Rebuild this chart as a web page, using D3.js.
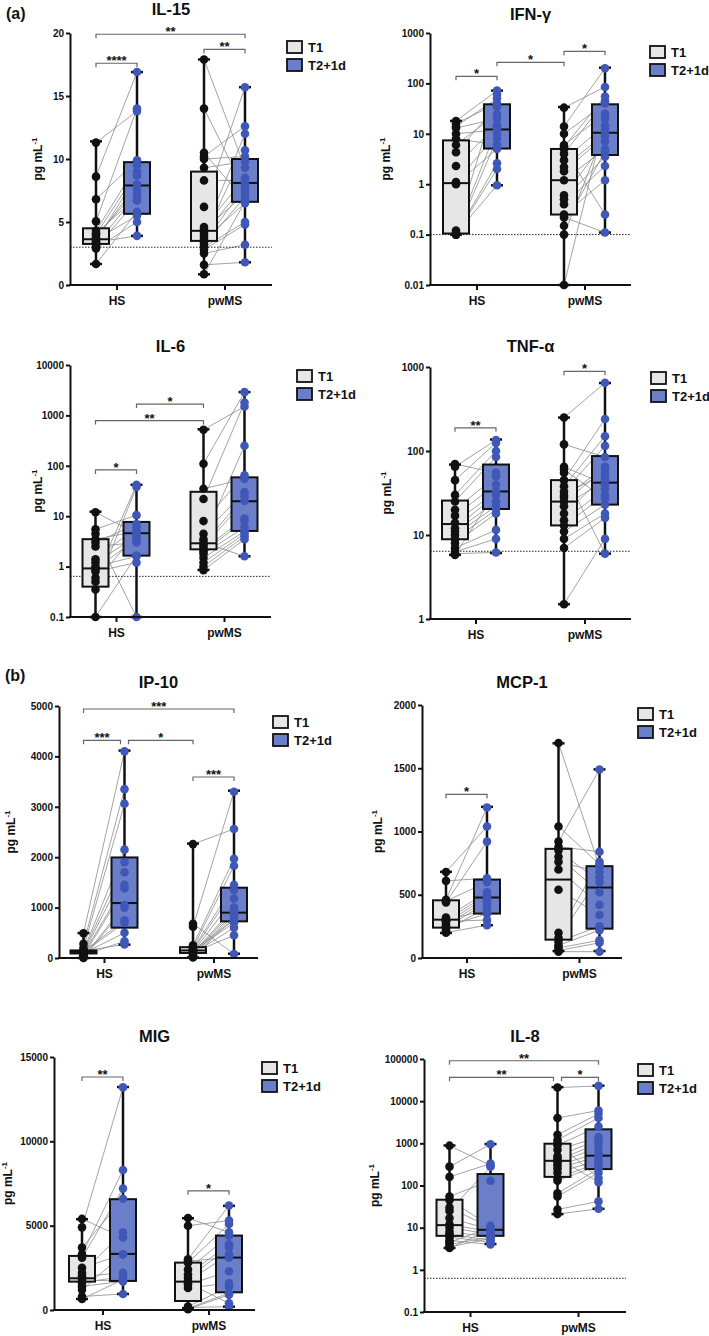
<!DOCTYPE html>
<html>
<head>
<meta charset="utf-8">
<script src="https://cdn.jsdelivr.net/npm/d3@7"></script>
<style>
body { margin: 0; background: #fff; }
text { font-family: "Liberation Sans", Arial, sans-serif; font-weight: bold; fill: #111; }
</style>
</head>
<body>
<script>
var groups = ['HS', 'pwMS'];
var series = ['T1', 'T2+1d'];

// box stats are [min, q1, median, q3, max] for HS T1, HS T2, pwMS T1, pwMS T2
// sig brackets are [from, to, y value, label], index 0..3 in the same order

// IL-15
var il15HsT1 = [11.3, 8.6, 6.8, 5.05, 4.3, 4.0, 3.8, 3.6, 3.5, 3.4, 3.2, 3.0, 2.9, 1.67, 3.7, 4.1];
var il15HsT2 = [13.8, 16.9, 9.9, 14.0, 9.5, 9.0, 7.6, 5.5, 8.7, 3.9, 7.2, 6.7, 5.0, 5.8, 8.0, 7.0];
var il15MsT1 = [17.9, 14.0, 10.5, 10.2, 10.0, 9.3, 8.3, 6.2, 4.6, 4.4, 4.2, 4.0, 3.8, 3.6, 3.4, 3.2, 3.0, 2.8, 2.5, 1.6, 0.85];
var il15MsT2 = [9.3, 7.5, 6.7, 12.6, 10.2, 9.8, 8.3, 15.7, 8.5, 7.2, 12.0, 8.0, 10.7, 6.5, 7.8, 7.0, 5.0, 4.8, 3.2, 1.8, 6.6];
var il15Box = [[1.67, 3.26, 3.63, 4.5, 11.4], [3.9, 5.65, 7.9, 9.75, 16.9], [0.85, 3.5, 4.3, 9.0, 17.9], [1.8, 6.6, 8.1, 10.0, 15.7]];
var il15Sig = [[0, 1, 17.6, '****'], [2, 3, 18.7, '**'], [0, 3, 19.9, '**']];
var il15Ticks = [0, 5, 10, 15, 20];
var il15Lod = 3.0;

// IFN-gamma
var ifnHsT1 = [18, 16, 13, 10, 8, 4.3, 2.3, 1.1, 1.0, 0.12, 0.11, 0.1, 0.1, 0.1, 14, 6, 0.105];
var ifnHsT2 = [72, 40, 20, 12, 6, 35, 15, 10, 5, 60, 13, 2.6, 8, 2.0, 50, 25, 0.95];
var ifnMsT1 = [33, 14, 10, 6, 5, 4, 3, 2.2, 1.8, 1.2, 0.6, 0.5, 0.4, 0.25, 0.22, 0.15, 0.1, 0.01, 5.5];
var ifnMsT2 = [85, 200, 40, 25, 0.25, 45, 15, 10, 9, 5, 7, 3.5, 2.3, 1.2, 0.11, 4.5, 12, 20, 55];
var ifnBox = [[0.1, 0.105, 1.05, 7.4, 18], [0.95, 5.1, 12.2, 38.5, 72], [0.01, 0.25, 1.2, 5, 34], [0.11, 3.8, 10.5, 38.5, 205]];
var ifnSig = [[0, 1, 138, '*'], [1, 2, 262, '*'], [2, 3, 432, '*']];
var ifnTicks = [0.01, 0.1, 1, 10, 100, 1000];
var ifnLod = 0.1;

// IL-6
var il6HsT1 = [12, 5.5, 4.5, 3.5, 3.0, 2.5, 1.4, 1.2, 1.0, 0.9, 0.8, 0.6, 0.5, 0.35, 0.1];
var il6HsT2 = [4.5, 10.5, 0.1, 5, 7, 3, 6, 4, 1.6, 3.5, 1.2, 42, 4.6, 38, 1.65];
var il6MsT1 = [520, 110, 35, 22, 8, 4.5, 3.5, 2.8, 2.5, 2.2, 2.0, 1.8, 1.5, 1.2, 1.0, 0.85, 3.0];
var il6MsT2 = [1500, 2900, 55, 1800, 65, 30, 250, 25, 20, 9, 8, 6, 5, 4.5, 4, 3.5, 1.6];
var il6Box = [[0.1, 0.4, 0.92, 3.5, 12.3], [0.1, 1.65, 4.6, 7.7, 42], [0.86, 2.2, 2.9, 30.5, 530], [1.6, 5.1, 19.8, 59, 2900]];
var il6Sig = [[0, 1, 83, '*'], [0, 2, 790, '**'], [1, 2, 1680, '*']];
var il6Ticks = [0.1, 1, 10, 100, 1000, 10000];
var il6Lod = 0.64;

// TNF-alpha
var tnfHsT1 = [70, 65, 45, 30, 25, 20, 17, 14, 12, 11, 10, 9, 8, 7, 6.3, 6, 5.8];
var tnfHsT2 = [55, 135, 125, 100, 85, 50, 40, 33, 30, 25, 22, 20, 18, 11.5, 9, 6.2, 33];
var tnfMsT1 = [250, 120, 65, 55, 45, 38, 33, 28, 25, 22, 18, 15, 13, 11, 9, 7, 1.5, 60, 30];
var tnfMsT2 = [650, 85, 40, 6, 240, 150, 115, 65, 60, 45, 50, 35, 30, 23, 18, 16, 9, 27, 55];
var tnfBox = [[5.8, 8.9, 13.5, 25.7, 69], [6.1, 20.4, 33, 69, 137], [1.5, 13, 25, 45, 250], [6, 23, 42, 87, 645]];
var tnfSig = [[0, 1, 189, '**'], [2, 3, 887, '*']];
var tnfTicks = [1, 10, 100, 1000];
var tnfLod = 6.4;

// IP-10
var ip10HsT1 = [490, 280, 200, 150, 120, 100, 80, 50, 20, 0, 130, 110, 90, 60, 140];
var ip10HsT2 = [4100, 3350, 3060, 2150, 1900, 1700, 1450, 1380, 1050, 1000, 750, 700, 500, 330, 270];
var ip10MsT1 = [2260, 680, 620, 250, 200, 180, 150, 120, 100, 80, 50, 30, 10, 160, 140, 90, 110];
var ip10MsT2 = [2560, 80, 3300, 1970, 1830, 1450, 1350, 1180, 1000, 950, 900, 850, 800, 750, 700, 600, 450];
var ip10Box = [[0, 90, 120, 150, 495], [265, 602, 1090, 1995, 4115], [10, 100, 150, 215, 2270], [85, 727, 900, 1395, 3320]];
var ip10Sig = [[0, 3, 4940, '***'], [0, 1, 4319, '***'], [1, 2, 4319, '*'], [2, 3, 3591, '***']];
var ip10Ticks = [0, 1000, 2000, 3000, 4000, 5000];
var ip10Lod = 8;

// MCP-1
var mcpHsT1 = [680, 610, 460, 440, 320, 300, 280, 260, 240, 220, 200, 300, 250, 450, 290];
var mcpHsT2 = [1040, 630, 1190, 920, 520, 500, 480, 460, 440, 400, 260, 380, 350, 600, 300];
var mcpMsT1 = [1700, 1040, 920, 880, 850, 800, 760, 700, 540, 200, 160, 130, 100, 80, 60, 50];
var mcpMsT2 = [720, 740, 1490, 840, 600, 520, 680, 420, 340, 760, 640, 250, 220, 140, 120, 50];
var mcpBox = [[198, 240, 303, 456, 681], [259, 351, 478, 620, 1195], [55, 145, 620, 863, 1697], [55, 232, 557, 726, 1491]];
var mcpSig = [[0, 1, 1293, '*']];
var mcpTicks = [0, 500, 1000, 1500, 2000];
var mcpLod = 4;

// MIG
var migHsT1 = [5400, 4900, 3700, 3300, 3100, 2500, 2200, 2000, 1800, 1600, 1400, 1200, 800, 650];
var migHsT2 = [4300, 13200, 6600, 8300, 7200, 3300, 4600, 2200, 1700, 2000, 1700, 3300, 950, 1800];
var migMsT1 = [5450, 5000, 3000, 2800, 2400, 2100, 1900, 1700, 1500, 1300, 200, 100, 50, 2900, 1600, 150];
var migMsT2 = [4600, 5300, 6200, 5100, 4400, 3900, 3700, 3300, 2300, 1600, 1400, 1000, 900, 3100, 400, 200];
var migBox = [[653, 1682, 1880, 3206, 5383], [950, 1722, 3325, 6570, 13220], [99, 534, 1682, 2810, 5442], [198, 1049, 3107, 4413, 6175]];
var migSig = [[0, 1, 13813, '**'], [2, 3, 7065, '*']];
var migTicks = [0, 5000, 10000, 15000];
var migLod = 30;

// IL-8
var il8HsT1 = [880, 280, 160, 55, 45, 30, 25, 17, 12, 10, 8, 7, 6, 5, 4.5, 4, 3.5, 3.3];
var il8HsT2 = [300, 950, 330, 130, 11, 10, 280, 9, 8, 7, 6, 5, 4.5, 4, 10, 6, 5.5, 9];
var il8MsT1 = [21000, 4000, 1600, 1200, 900, 700, 500, 400, 350, 300, 250, 200, 150, 130, 65, 55, 27, 21, 1000, 450];
var il8MsT2 = [23000, 6000, 5000, 4000, 2500, 1400, 1200, 1000, 800, 600, 500, 400, 350, 300, 250, 200, 42, 28, 150, 120];
var il8Box = [[3.3, 6.4, 11.5, 46, 890], [4.1, 6.4, 8.9, 187, 960], [21, 160, 385, 980, 21500], [28, 245, 510, 2150, 23300]];
var il8Sig = [[0, 3, 91000, '**'], [0, 2, 36700, '**'], [2, 3, 36700, '*']];
var il8Ticks = [0.1, 1, 10, 100, 1000, 10000, 100000];
var il8Lod = 0.63;

var panels = [
	{title: 'IL-15', log: false, domain: [0, 20], ticks: il15Ticks, pts: [il15HsT1, il15HsT2, il15MsT1, il15MsT2], box: il15Box, sig: il15Sig, lod: il15Lod,
		ax: 70, right: 272, top: 33, bot: 285, gx: [116.5, 224.5], ty: 15, yl: -28, lx: 287, ly: 47},
	{title: 'IFN-γ', log: true, domain: [0.01, 1000], ticks: ifnTicks, pts: [ifnHsT1, ifnHsT2, ifnMsT1, ifnMsT2], box: ifnBox, sig: ifnSig, lod: ifnLod,
		ax: 430, right: 631, top: 33, bot: 285, gx: [476.5, 584.5], ty: 20, yl: -40, lx: 650, ly: 52},
	{title: 'IL-6', log: true, domain: [0.1, 10000], ticks: il6Ticks, pts: [il6HsT1, il6HsT2, il6MsT1, il6MsT2], box: il6Box, sig: il6Sig, lod: il6Lod,
		ax: 70, right: 271, top: 365, bot: 617, gx: [116, 224], ty: 352, yl: -28, lx: 297, ly: 376},
	{title: 'TNF-α', log: true, domain: [1, 1000], ticks: tnfTicks, pts: [tnfHsT1, tnfHsT2, tnfMsT1, tnfMsT2], box: tnfBox, sig: tnfSig, lod: tnfLod,
		ax: 430, right: 631, top: 367, bot: 619, gx: [475.5, 584.5], ty: 352, yl: -39, lx: 651, ly: 378},
	{title: 'IP-10', log: false, domain: [0, 5000], ticks: ip10Ticks, pts: [ip10HsT1, ip10HsT2, ip10MsT1, ip10MsT2], box: ip10Box, sig: ip10Sig, lod: ip10Lod,
		ax: 59, right: 258, top: 706, bot: 958, gx: [104, 213.5], ty: 688, yl: -44, lx: 273, ly: 722},
	{title: 'MCP-1', log: false, domain: [0, 2000], ticks: mcpTicks, pts: [mcpHsT1, mcpHsT2, mcpMsT1, mcpMsT2], box: mcpBox, sig: mcpSig, lod: mcpLod,
		ax: 422, right: 622, top: 705, bot: 958, gx: [466.5, 579], ty: 688, yl: -40, lx: 638, ly: 714},
	{title: 'MIG', log: false, domain: [0, 15000], ticks: migTicks, pts: [migHsT1, migHsT2, migMsT1, migMsT2], box: migBox, sig: migSig, lod: migLod,
		ax: 54, right: 255, top: 1057, bot: 1310, gx: [102.5, 208.5], ty: 1042, yl: -42, lx: 262, ly: 1068},
	{title: 'IL-8', log: true, domain: [0.1, 100000], ticks: il8Ticks, pts: [il8HsT1, il8HsT2, il8MsT1, il8MsT2], box: il8Box, sig: il8Sig, lod: il8Lod,
		ax: 424, right: 626, top: 1059, bot: 1312, gx: [470, 578], ty: 1042, yl: -45, lx: 638, ly: 1070}
];

var fills = ['#e6e6e6', '#6a7ec9'];
var dotColors = ['#111111', '#3f58b8'];

var svg = d3.select('body').append('svg')
	.attr('width', 709)
	.attr('height', 1336);

svg.append('text').attr('x', 6).attr('y', 19).style('font-size', '16px').text('(a)');
svg.append('text').attr('x', 5).attr('y', 681).style('font-size', '16px').text('(b)');

panels.forEach(function(p) {
	var g = svg.append('g');
	var y = (p.log ? d3.scaleLog() : d3.scaleLinear()).domain(p.domain).range([p.bot, p.top]);
	var xg = d3.scalePoint().domain(groups).range(p.gx);
	var xs = d3.scalePoint().domain(series).range([-20.5, 20.5]);
	var pos = function(k) { return xg(groups[k >> 1]) + xs(series[k & 1]); };

	// title
	g.append('text')
		.attr('x', (p.ax + p.right) / 2)
		.attr('y', p.ty)
		.attr('text-anchor', 'middle')
		.style('font-size', '16.5px')
		.text(p.title);

	// paired lines
	groups.forEach(function(grp, gi) {
		var a = p.pts[gi * 2], b = p.pts[gi * 2 + 1];
		a.forEach(function(v, i) {
			g.append('line')
				.attr('x1', pos(gi * 2)).attr('y1', y(v))
				.attr('x2', pos(gi * 2 + 1)).attr('y2', y(b[i]))
				.attr('stroke', '#8c8c8c')
				.attr('stroke-width', 0.8);
		});
	});

	// lod line
	g.append('line')
		.attr('x1', p.ax).attr('x2', p.right)
		.attr('y1', y(p.lod)).attr('y2', y(p.lod))
		.attr('stroke', '#222')
		.attr('stroke-width', 1)
		.attr('stroke-dasharray', '1.5,1.5');

	// boxes
	p.box.forEach(function(s, k) {
		var cx = pos(k);
		var bw = 13;
		g.append('line').attr('x1', cx).attr('x2', cx).attr('y1', y(s[4])).attr('y2', y(s[0]))
			.attr('stroke', '#111').attr('stroke-width', 2.5);
		g.append('rect')
			.attr('x', cx - bw).attr('width', bw * 2)
			.attr('y', y(s[3])).attr('height', Math.max(1, y(s[1]) - y(s[3])))
			.attr('fill', fills[k & 1])
			.attr('stroke', '#111')
			.attr('stroke-width', 2);
		g.append('line').attr('x1', cx - bw).attr('x2', cx + bw).attr('y1', y(s[2])).attr('y2', y(s[2]))
			.attr('stroke', '#111').attr('stroke-width', 2);
		[s[0], s[4]].forEach(function(v) {
			g.append('line').attr('x1', cx - 6).attr('x2', cx + 6).attr('y1', y(v)).attr('y2', y(v))
				.attr('stroke', '#111').attr('stroke-width', 2.5);
		});
	});

	// dots
	p.pts.forEach(function(arr, k) {
		g.selectAll(null).data(arr).enter().append('circle')
			.attr('cx', pos(k))
			.attr('cy', function(d) { return y(d); })
			.attr('r', 4.3)
			.attr('fill', dotColors[k & 1]);
	});

	// y axis
	var yAxis = g.append('g')
		.attr('transform', 'translate(' + p.ax + ',0)')
		.call(d3.axisLeft(y).tickValues(p.ticks).tickFormat(function(d) { return String(d); }).tickSize(4).tickSizeOuter(0));
	yAxis.select('.domain').attr('stroke', '#111').attr('stroke-width', 2);
	yAxis.selectAll('.tick line').attr('stroke', '#111').attr('stroke-width', 2);
	yAxis.selectAll('.tick text').attr('x', -6).style('font-size', '10px').style('font-family', '"Liberation Sans", Arial, sans-serif').style('font-weight', 'bold').attr('fill', '#111');

	// x axis
	g.append('line')
		.attr('x1', p.ax - 1).attr('x2', p.right)
		.attr('y1', p.bot).attr('y2', p.bot)
		.attr('stroke', '#111').attr('stroke-width', 2);
	var xAxis = g.append('g')
		.attr('transform', 'translate(0,' + p.bot + ')')
		.call(d3.axisBottom(xg).tickSize(5).tickSizeOuter(0));
	xAxis.select('.domain').remove();
	xAxis.selectAll('.tick line').attr('stroke', '#111').attr('stroke-width', 2);
	xAxis.selectAll('.tick text').attr('y', 20).attr('dy', null).style('font-size', '12px').style('font-family', '"Liberation Sans", Arial, sans-serif').style('font-weight', 'bold').attr('fill', '#111');

	// y label
	var yl = g.append('text')
		.attr('transform', 'translate(' + (p.ax + p.yl) + ',' + ((p.top + p.bot) / 2) + ') rotate(-90)')
		.attr('text-anchor', 'middle')
		.style('font-size', '12px');
	yl.append('tspan').text('pg mL');
	yl.append('tspan').attr('dy', -5).style('font-size', '8px').text('-1');

	// significance brackets
	p.sig.forEach(function(b) {
		var x1 = pos(b[0]), x2 = pos(b[1]);
		p.sig.forEach(function(c) {
			if (c === b || c[2] !== b[2]) return;
			if (c[1] === b[0]) x1 += 4;
			if (c[0] === b[1]) x2 -= 4;
		});
		var yy = y(b[2]);
		g.append('path')
			.attr('d', 'M' + x1 + ',' + (yy + 4) + 'V' + yy + 'H' + x2 + 'V' + (yy + 4))
			.attr('fill', 'none')
			.attr('stroke', '#666')
			.attr('stroke-width', 1.2);
		g.append('text')
			.attr('x', (x1 + x2) / 2)
			.attr('y', yy + 2)
			.attr('text-anchor', 'middle')
			.style('font-size', '13px')
			.text(b[3]);
	});

	// legend
	series.forEach(function(s, i) {
		var ly = p.ly + i * 18;
		g.append('rect')
			.attr('x', p.lx).attr('y', ly - 6)
			.attr('width', 15).attr('height', 12)
			.attr('fill', fills[i])
			.attr('stroke', '#111')
			.attr('stroke-width', 1.8);
		g.append('text')
			.attr('x', p.lx + 21).attr('y', ly + 4.5)
			.style('font-size', '13px')
			.text(s);
	});
});
</script>
</body>
</html>
